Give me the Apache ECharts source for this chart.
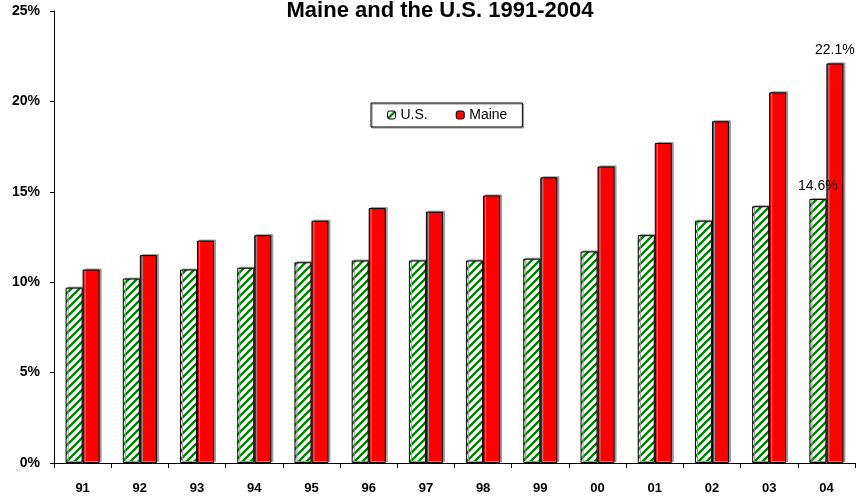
<!DOCTYPE html>
<html lang="en">
<head>
    <meta charset="utf-8" />
    <title>Maine and the U.S. 1991-2004</title>
    <style>
        html,
        body {
            width: 100%;
            height: 100%;
            margin: 0;
            background: #fff;
        }
    </style>
</head>
<body>
    <div id="main" style="width: 860px;height:499px;"></div>
    <script src="https://cdn.jsdelivr.net/npm/echarts@6/dist/echarts.min.js"></script>
    <script type="text/javascript">
        var years = ['91', '92', '93', '94', '95', '96', '97', '98', '99', '00', '01', '02', '03', '04'];
        var usValues = [9.7, 10.2, 10.7, 10.8, 11.1, 11.2, 11.2, 11.2, 11.3, 11.7, 12.6, 13.4, 14.2, 14.6];
        var maineValues = [10.7, 11.5, 12.3, 12.6, 13.4, 14.1, 13.9, 14.8, 15.8, 16.4, 17.7, 18.9, 20.5, 22.1];

        // striped fill for the U.S. bars
        var stripe = document.createElement('canvas');
        stripe.width = stripe.height = 8;
        var ctx = stripe.getContext('2d');
        ctx.fillStyle = '#fff';
        ctx.fillRect(0, 0, 8, 8);
        ctx.strokeStyle = '#008000';
        ctx.lineWidth = 2.4;
        ctx.beginPath();
        ctx.moveTo(-2, 10); ctx.lineTo(10, -2);
        ctx.moveTo(-6, 6); ctx.lineTo(6, -6);
        ctx.moveTo(2, 14); ctx.lineTo(14, 2);
        ctx.stroke();

        function lastLabel(values) {
            return values.map(function (v, i) {
                if (i === values.length - 1) {
                    return { value: v, label: { show: true } };
                }
                return v;
            });
        }

        var chart = echarts.init(document.getElementById('main'));
        var font = 'Arial, "Liberation Sans", sans-serif';

        var option = {
            backgroundColor: '#fff',
            animation: false,
            title: {
                text: 'Maine and the U.S. 1991-2004',
                left: 440,
                top: 0,
                padding: 0,
                textAlign: 'center',
                textStyle: { fontFamily: font, fontSize: 22, fontWeight: 'bold', color: '#000' }
            },
            legend: {
                left: 371,
                top: 103,
                padding: [5, 15, 5, 16],
                itemWidth: 8,
                itemHeight: 8,
                itemGap: 28,
                borderColor: '#000',
                borderWidth: 1,
                shadowColor: '#888',
                shadowOffsetX: 1,
                shadowOffsetY: 1,
                textStyle: { fontFamily: font, fontSize: 14, color: '#000' },
                data: [
                    { name: 'U.S.', itemStyle: { borderColor: '#000', borderWidth: 1 } },
                    { name: 'Maine', itemStyle: { borderColor: '#000', borderWidth: 1 } }
                ]
            },
            grid: {
                left: 54,
                right: 5,
                top: 11,
                bottom: 36
            },
            xAxis: {
                type: 'category',
                data: years,
                axisLine: { lineStyle: { color: '#000', width: 1 } },
                axisTick: { show: true, length: 5, lineStyle: { color: '#000' } },
                axisLabel: { margin: 19, fontFamily: font, fontSize: 13, fontWeight: 'bold', color: '#000' }
            },
            yAxis: {
                type: 'value',
                min: 0,
                max: 25,
                interval: 5,
                splitLine: { show: false },
                axisLine: { show: true, lineStyle: { color: '#000', width: 1 } },
                axisTick: { show: true, length: 4, lineStyle: { color: '#000' } },
                axisLabel: {
                    formatter: '{value}%',
                    margin: 14,
                    fontFamily: font, fontSize: 14, fontWeight: 'bold', color: '#000'
                }
            },
            series: [{
                name: 'U.S.',
                type: 'bar',
                barWidth: 17,
                barGap: '0%',
                itemStyle: {
                    color: { image: stripe, repeat: 'repeat' },
                    borderColor: '#000',
                    borderWidth: 1,
                    shadowColor: '#999',
                    shadowOffsetX: 2,
                    shadowOffsetY: -1
                },
                label: {
                    position: 'top',
                    distance: 6,
                    formatter: '{c}%',
                    fontFamily: font, fontSize: 14, color: '#000'
                },
                data: lastLabel(usValues)
            }, {
                name: 'Maine',
                type: 'bar',
                barWidth: 17,
                barGap: '0%',
                itemStyle: {
                    color: '#ff0000',
                    borderColor: '#000',
                    borderWidth: 1,
                    shadowColor: '#999',
                    shadowOffsetX: 2,
                    shadowOffsetY: -1
                },
                label: {
                    position: 'top',
                    distance: 6,
                    formatter: '{c}%',
                    fontFamily: font, fontSize: 14, color: '#000'
                },
                data: lastLabel(maineValues)
            }]
        };

        chart.setOption(option);
    </script>
</body>
</html>
